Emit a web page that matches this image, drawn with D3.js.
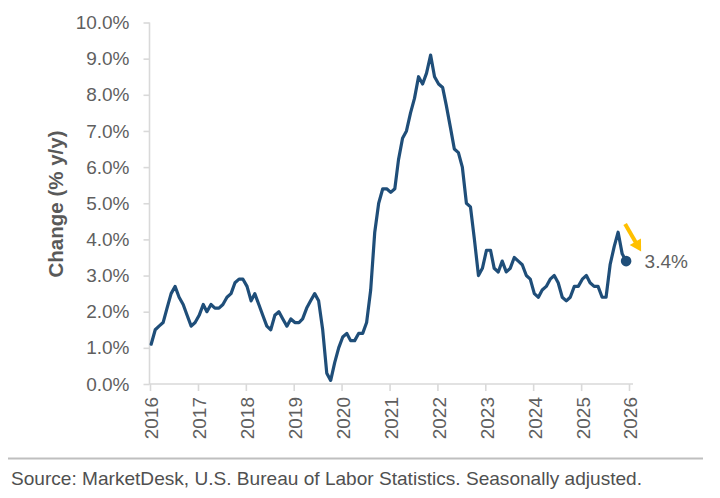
<!DOCTYPE html>
<html>
<head>
<meta charset="utf-8">
<script src="https://cdn.jsdelivr.net/npm/d3@7"></script>
<style>
  html, body { margin: 0; padding: 0; background: #fff; }
  svg { display: block; }
</style>
</head>
<body>
<svg id="chart" width="720" height="498"></svg>
<script>
// ---- Data ----
const startYear = 2016;          // first category month = Jan 2016
const yearTicks = [2016, 2017, 2018, 2019, 2020, 2021, 2022, 2023, 2024, 2025, 2026];
const yTicks = [0, 1, 2, 3, 4, 5, 6, 7, 8, 9, 10];
const values = [
  1.1, 1.5, 1.6, 1.7, 2.1,
  2.5, 2.7, 2.4, 2.2, 1.9, 1.6, 1.7, 1.9, 2.2, 2.0, 2.2, 2.1,
  2.1, 2.2, 2.4, 2.5, 2.8, 2.9, 2.9, 2.7, 2.3, 2.5, 2.2, 1.9,
  1.6, 1.5, 1.9, 2.0, 1.8, 1.6, 1.8, 1.7, 1.7, 1.8, 2.1, 2.3,
  2.5, 2.3, 1.5, 0.3, 0.1, 0.6, 1.0, 1.3, 1.4, 1.2, 1.2, 1.4,
  1.4, 1.7, 2.6, 4.2, 5.0, 5.4, 5.4, 5.3, 5.4, 6.2, 6.8, 7.0,
  7.5, 7.9, 8.5, 8.3, 8.6, 9.1, 8.5, 8.3, 8.2, 7.7, 7.1, 6.5,
  6.4, 6.0, 5.0, 4.9, 4.0, 3.0, 3.2, 3.7, 3.7, 3.2, 3.1, 3.4,
  3.1, 3.2, 3.5, 3.4, 3.3, 3.0, 2.9, 2.5, 2.4, 2.6, 2.7, 2.9,
  3.0, 2.8, 2.4, 2.3, 2.4, 2.7, 2.7, 2.9, 3.0, 2.8, 2.7, 2.7,
  2.4, 2.4, 3.3, 3.8, 4.2, 3.6, 3.4
];
// categories: one per month, starting Jan 2016
const categories = values.map((_, i) => new Date(startYear, i, 10));
const yLabel = "Change (% y/y)";
const lastLabel = "3.4%";
const sourceText = "Source: MarketDesk, U.S. Bureau of Labor Statistics. Seasonally adjusted.";

// ---- Layout ----
const svg = d3.select("#chart");
const pL = 150, pR = 629, pT = 22.5, pB = 384;
const textColor = "#5f5f5f";
const axisColor = "#d9d9d9";
const lineColor = "#1f4e79";
const font = "'Liberation Sans', Arial, Helvetica, sans-serif";

const x = d3.scaleTime()
  .domain([new Date(yearTicks[0], 0, 1), new Date(yearTicks[yearTicks.length - 1], 0, 1)])
  .range([pL, pR]);
const y = d3.scaleLinear().domain([0, 10]).range([pB, pT]);

// Y axis
const yAxis = d3.axisLeft(y)
  .tickValues(yTicks)
  .tickFormat(d => d3.format(".1f")(d) + "%")
  .tickSize(6)
  .tickPadding(14);
const gy = svg.append("g")
  .attr("transform", `translate(${pL - 0.5},0)`)
  .call(yAxis);
gy.select(".domain").attr("stroke", axisColor).attr("stroke-width", 1.6)
  .attr("d", `M0,${pT}V${pB}`);
gy.selectAll(".tick line").attr("stroke", axisColor).attr("stroke-width", 1.6);
gy.selectAll(".tick text")
  .attr("fill", textColor)
  .style("font-family", font)
  .style("font-size", "19px");

// X axis
const xAxis = d3.axisBottom(x)
  .tickValues(yearTicks.map(yr => new Date(yr, 0, 1)))
  .tickFormat(d3.timeFormat("%Y"))
  .tickSize(7)
  .tickPadding(0);
const gx = svg.append("g")
  .attr("transform", `translate(0,${pB})`)
  .call(xAxis);
gx.select(".domain").attr("stroke", axisColor).attr("stroke-width", 1.6)
  .attr("d", `M${pL - 1},0H${pR + 4}`);
gx.selectAll(".tick line").attr("stroke", axisColor).attr("stroke-width", 1.6);
gx.selectAll(".tick text")
  .attr("fill", textColor)
  .style("font-family", font)
  .style("font-size", "19px")
  .attr("text-anchor", "end")
  .attr("transform", "rotate(-90)")
  .attr("x", -13)
  .attr("y", 0)
  .attr("dx", 0)
  .attr("dy", "0.42em");

// Y label
svg.append("text")
  .attr("transform", `translate(63,204) rotate(-90)`)
  .attr("text-anchor", "middle")
  .attr("fill", "#595959")
  .style("font-family", font)
  .style("font-size", "20.5px")
  .style("font-weight", "bold")
  .text(yLabel);

// Line
const line = d3.line()
  .x((d, i) => x(categories[i]))
  .y(d => y(d));
svg.append("path")
  .datum(values)
  .attr("fill", "none")
  .attr("stroke", lineColor)
  .attr("stroke-width", 3.2)
  .attr("stroke-linejoin", "round")
  .attr("stroke-linecap", "round")
  .attr("d", line);

// Last point dot
const lastI = values.length - 1;
const lx = x(categories[lastI]), ly = y(values[lastI]);
svg.append("circle")
  .attr("cx", lx).attr("cy", ly).attr("r", 5.3)
  .attr("fill", lineColor);

// Yellow arrow (relative to last point)
const ax0 = lx - 1, ay0 = ly - 37, ax1 = lx + 15, ay1 = ly - 9.5;
const adx = ax1 - ax0, ady = ay1 - ay0, alen = Math.hypot(adx, ady);
const ux = adx / alen, uy = ady / alen, px = -uy, py = ux;
const headL = 11.5, headW = 6.5;
const bx = ax1 - ux * headL, by = ay1 - uy * headL;
svg.append("line")
  .attr("x1", ax0).attr("y1", ay0).attr("x2", bx + ux).attr("y2", by + uy)
  .attr("stroke", "#ffc000").attr("stroke-width", 4);
svg.append("path")
  .attr("d", `M${ax1},${ay1}L${bx + px * headW},${by + py * headW}L${bx - px * headW},${by - py * headW}Z`)
  .attr("fill", "#ffc000");

// Last value label
svg.append("text")
  .attr("x", lx + 18.5).attr("y", ly + 7)
  .attr("fill", textColor)
  .style("font-family", font)
  .style("font-size", "19px")
  .text(lastLabel);

// Source separator and text
svg.append("line")
  .attr("x1", 8).attr("x2", 703).attr("y1", 458.5).attr("y2", 458.5)
  .attr("stroke", "#bfbfbf").attr("stroke-width", 2);
svg.append("text")
  .attr("x", 11).attr("y", 485)
  .attr("fill", "#505050")
  .attr("textLength", 631)
  .attr("lengthAdjust", "spacingAndGlyphs")
  .style("font-family", font)
  .style("font-size", "19px")
  .text(sourceText);
</script>
</body>
</html>
